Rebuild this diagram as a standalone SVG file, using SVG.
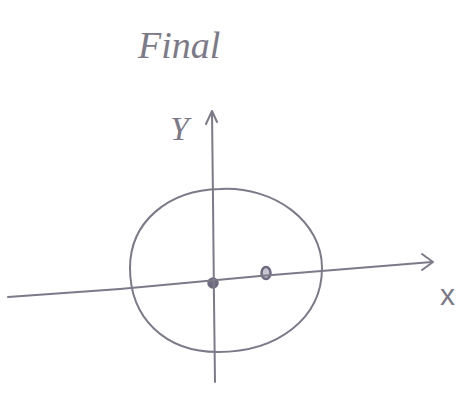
<svg xmlns="http://www.w3.org/2000/svg" width="468" height="401" viewBox="0 0 468 401">
<style>
.ln{fill:none;stroke:#7c7a88;stroke-width:2;stroke-linecap:round;stroke-linejoin:round}
.t{font-family:"Liberation Serif",serif;font-style:italic;fill:#7c7a88}
</style>
<rect width="468" height="401" fill="#ffffff"/>
<g id="title"><text class="t" x="138" y="58" font-size="38">Final</text></g>
<g id="circle"><path class="ln" d="M220,189 C275,186 322,222 322,268 C322,318 278,352 218,352 C165,352 130,318 130,268 C130,222 168,190 220,189 Z"/></g>
<g id="origin"><ellipse cx="213" cy="283" rx="5" ry="5" fill="#6e6a80" stroke="#6e6a80" stroke-width="1.5"/></g>
<g id="point"><ellipse cx="266" cy="273" rx="4.5" ry="6" fill="#c8c6d0" stroke="#6e6a80" stroke-width="2.5"/></g>
<g id="labels">
<text class="t" x="170" y="140" font-size="34">Y</text>
<text x="440" y="305" font-size="30" font-family="Liberation Sans, sans-serif" fill="#7c7a88">x</text>
</g>
<g id="connectors">
<path class="ln" d="M8,297 L120,289 L260,276 L432,262"/>
<path class="ln" d="M422,254 L433,262 L422,270"/>
<path class="ln" d="M215,382 L214,300 L213,200 L212,112"/>
<path class="ln" d="M206,124 L212,111 L217,122"/>
</g>
</svg>
